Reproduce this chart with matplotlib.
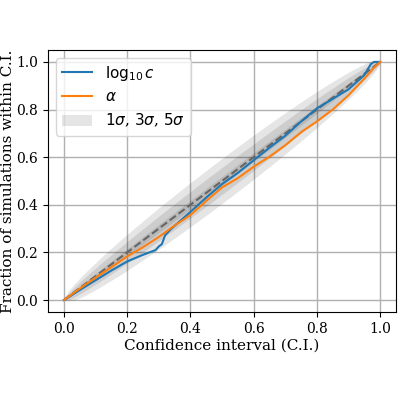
import numpy as np
import matplotlib
matplotlib.use("Agg")
import matplotlib.pyplot as plt

plt.rcParams["font.family"] = "serif"
plt.rcParams["font.size"] = 11

# fraction of simulations inside each confidence interval
ci_blue = [0.0, 0.05, 0.1, 0.15, 0.2, 0.25, 0.29, 0.30, 0.31, 0.32, 0.34, 0.4, 0.45,
           0.5, 0.55, 0.6, 0.65, 0.7, 0.75, 0.8, 0.85, 0.9, 0.95, 0.97, 0.98, 1.0]
frac_log10c = [0.0, 0.042, 0.083, 0.124, 0.162, 0.19, 0.21, 0.225, 0.235, 0.272, 0.30,
               0.37, 0.43, 0.487, 0.534, 0.587, 0.64, 0.69, 0.75, 0.805, 0.845, 0.885,
               0.945, 0.99, 1.0, 1.0]

ci_orange = [0.0, 0.05, 0.1, 0.15, 0.2, 0.25, 0.3, 0.35, 0.4, 0.45, 0.5, 0.55, 0.6,
             0.65, 0.7, 0.75, 0.8, 0.85, 0.9, 0.95, 0.98, 1.0]
frac_alpha = [0.0, 0.048, 0.094, 0.138, 0.183, 0.222, 0.265, 0.313, 0.357, 0.416,
              0.473, 0.512, 0.56, 0.602, 0.65, 0.705, 0.75, 0.80, 0.86, 0.93, 0.975, 1.0]

n_sims = 700
sigmas = [1, 3, 5]

fig, ax = plt.subplots(figsize=(4, 4), dpi=100)
fig.subplots_adjust(left=0.12, right=0.99, bottom=0.22, top=0.875)

x = np.linspace(0, 1, 501)
for k in sigmas:
    half = k * np.sqrt(x * (1 - x) / n_sims)
    lo = np.clip(x - half, 0, 1)
    hi = np.clip(x + half, 0, 1)
    if k == 1:
        ax.fill_between(x, lo, hi, color="k", alpha=0.1, lw=0,
                        label=r"$1\sigma$, $3\sigma$, $5\sigma$")
    else:
        ax.fill_between(x, lo, hi, color="k", alpha=0.1, lw=0)

ax.plot([0, 1], [0, 1], "--", color="0.4", lw=1.5, zorder=2)
ax.plot(ci_blue, frac_log10c, color="C0", lw=1.5, label=r"$\log_{10}c$")
ax.plot(ci_orange, frac_alpha, color="C1", lw=1.5, label=r"$\alpha$")

ax.set_xlim(-0.05, 1.05)
ax.set_ylim(-0.05, 1.05)
ax.tick_params(labelsize=10)
ax.grid(True, color="#b0b0b0", lw=1)
ax.set_axisbelow(True)
ax.set_xlabel("Confidence interval (C.I.)", labelpad=2)
ax.set_ylabel("Fraction of simulations within C.I.", labelpad=1)

h, l = ax.get_legend_handles_labels()
ax.legend([h[1], h[2], h[0]], [l[1], l[2], l[0]], loc="upper left", fontsize=11)

plt.savefig("out.png")
